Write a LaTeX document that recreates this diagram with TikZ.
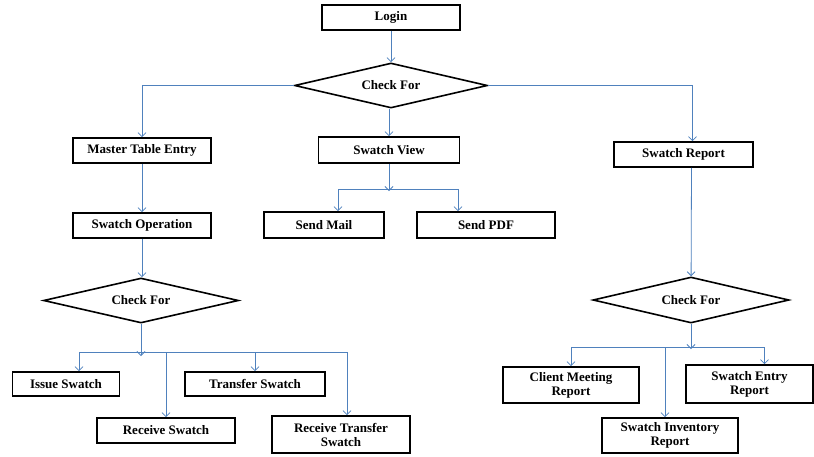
\documentclass[tikz,border=0pt]{standalone}
\usepackage{fontspec}
\setmainfont{Liberation Serif}
\usepackage{tikz}
\usetikzlibrary{shapes.geometric,arrows.meta,positioning}
\definecolor{linkblue}{RGB}{79,129,189}

\begin{document}
\begin{tikzpicture}[
        x=1pt, y=-1pt,
        every node/.style={font=\fontsize{13}{14}\selectfont\bfseries, align=center},
        box/.style={draw, line width=1.6pt, rectangle, inner sep=1pt, minimum height=25pt},
        check/.style={draw, line width=1.6pt, diamond, aspect=4, inner sep=1pt},
        link/.style={draw=linkblue, line width=0.8pt, -{Straight Barb[length=4pt,width=8pt]}},
        plain/.style={draw=linkblue, line width=0.8pt}
        ]
        \useasboundingbox (0,0) rectangle (814,456);

        % Nodes
        \node[box, minimum width=138pt] (login) at (391,17.5) {Login};
        \node[check, minimum width=193pt, minimum height=45pt] (chk0) at (391,85.5) {Check For};

        \node[box, minimum width=138pt] (mte) at (142,150.5) {Master Table Entry};
        \node[box, minimum width=138pt] (sop) at (142,225.5) {Swatch Operation};
        \node[check, minimum width=195pt, minimum height=45pt] (chk1) at (141,300.5) {Check For};
        \node[box, minimum width=107pt, minimum height=24pt] (iss) at (66,384) {Issue Swatch};
        \node[box, minimum width=140pt, minimum height=24pt] (tra) at (255,384) {Transfer Swatch};
        \node[box, minimum width=138pt] (rcv) at (166,430.5) {Receive Swatch};
        \node[box, minimum width=138pt, minimum height=37pt] (rtr) at (341,434.5) {Receive Transfer\\Swatch};

        \node[box, minimum width=141pt, minimum height=26pt] (svw) at (389,150) {Swatch View};
        \node[box, minimum width=120pt, minimum height=26pt] (sml) at (324,225) {Send Mail};
        \node[box, minimum width=138pt, minimum height=26pt] (spdf) at (486,225) {Send PDF};

        \node[box, minimum width=139pt] (srep) at (683.5,154.5) {Swatch Report};
        \node[check, minimum width=196pt, minimum height=46pt] (chk2) at (691,300) {Check For};
        \node[box, minimum width=136pt, minimum height=36pt] (cmr) at (571,385) {Client Meeting\\Report};
        \node[box, minimum width=127pt, minimum height=38pt] (ser) at (749.5,384) {Swatch Entry\\Report};
        \node[box, minimum width=136pt, minimum height=35pt] (sir) at (670,435.5) {Swatch Inventory\\Report};

        % Branch points
        \coordinate (b0) at (389,189);
        \coordinate (b1) at (141,352);
        \coordinate (b2) at (691,347);

        % Edges
        \draw[link] (login) -- (chk0);
        \draw[link] (chk0.west) -| (mte);
        \draw[link] (chk0.south -| svw) -- (svw);
        \draw[link] (chk0.east) -| ([xshift=9pt]srep.north);

        \draw[link] (mte) -- (sop);
        \draw[link] (sop) -- (sop |- chk1.north);
        \draw[link] (chk1) -- ([yshift=-4pt]b1);
        \draw[plain] ([xshift=13pt]iss.north |- b1) -- ([xshift=6pt]rtr.north |- b1);
        \draw[link] (b1) -| ([xshift=13pt]iss.north);
        \draw[link] (b1) -| (rcv);
        \draw[link] (b1) -| (tra);
        \draw[link] (b1) -| ([xshift=6pt]rtr.north);

        \draw[link] (svw) -- ([yshift=-2pt]b0);
        \draw[link] (b0) -| ([xshift=14pt]sml.north);
        \draw[link] (b0) -| ([xshift=-28pt]spdf.north);

        \draw[link] ([xshift=8pt]srep.south) -- (chk2);
        \draw[link] (chk2) -- ([yshift=-2pt]b2);
        \draw[link] (b2) -| (cmr);
        \draw[link] (b2) -| ([xshift=-5pt]sir.north);
        \draw[link] (b2) -| ([xshift=15pt]ser.north);

    \end{tikzpicture}
\end{document}
